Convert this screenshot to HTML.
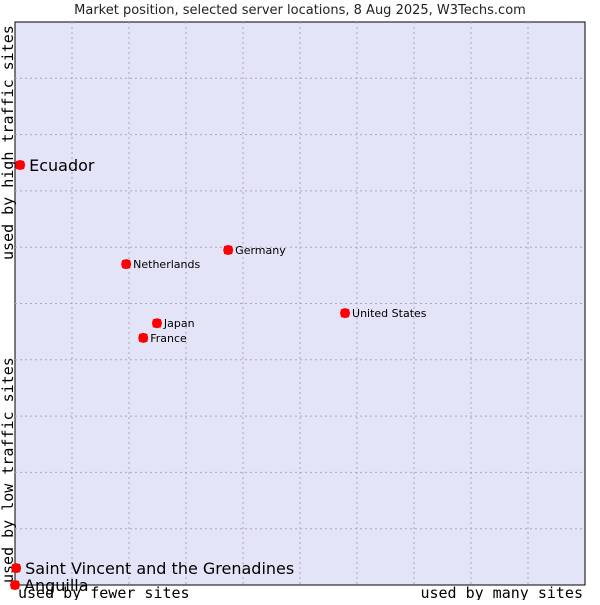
<!DOCTYPE html>
<html><head><meta charset="utf-8"><style>
body{margin:0;background:#fff;width:600px;height:600px;overflow:hidden}
svg{font-family:"DejaVu Sans","Liberation Sans",sans-serif}
</style></head><body>
<svg id="c" width="600" height="600">
<rect x="15" y="22" width="570" height="563" fill="#e3e4f8" stroke="#000"/>
<g id="grid"></g>
<text x="300" y="14" text-anchor="middle" font-size="13" fill="#222">Market position, selected server locations, 8 Aug 2025, W3Techs.com</text>
<text x="18" y="598" font-family="DejaVu Sans Mono,Liberation Mono,monospace" font-size="15">used by fewer sites</text>
<text x="583" y="598" text-anchor="end" font-family="DejaVu Sans Mono,Liberation Mono,monospace" font-size="15">used by many sites</text>
<text transform="translate(13,583) rotate(-90)" font-family="DejaVu Sans Mono,Liberation Mono,monospace" font-size="15">used by low traffic sites</text>
<text transform="translate(13,260) rotate(-90)" font-family="DejaVu Sans Mono,Liberation Mono,monospace" font-size="15">used by high traffic sites</text>
<g id="pts"></g>
</svg>
<script>
const names=["Ecuador","Germany","Netherlands","United States","Japan","France","Saint Vincent and the Grenadines","Anguilla"];
const xs=[0.9,37.4,19.5,57.9,24.9,22.5,0.2,0];
const ys=[74.6,59.5,57.0,48.3,46.5,43.9,3.0,0];
const big=[1,0,0,0,0,0,1,1];
const NS="http://www.w3.org/2000/svg";
const X=v=>15+v*5.7, Y=v=>585-v*5.63;
const g=document.getElementById('grid');
for(let i=1;i<10;i++){
  const l=document.createElementNS(NS,'line');
  l.setAttribute('x1',X(i*10));l.setAttribute('x2',X(i*10));l.setAttribute('y1',22);l.setAttribute('y2',585);
  l.setAttribute('stroke','#aaa');l.setAttribute('stroke-dasharray','2,3');
  
  
  g.appendChild(l);
  const h=document.createElementNS(NS,'line');
  h.setAttribute('y1',Y(i*10));h.setAttribute('y2',Y(i*10));h.setAttribute('x1',15);h.setAttribute('x2',585);
  h.setAttribute('stroke','#aaa');h.setAttribute('stroke-dasharray','2,3');
  
  
  g.appendChild(h);
}
const p=document.getElementById('pts');
names.forEach((n,i)=>{
  const x=X(xs[i]),y=Y(ys[i]);
  const d=document.createElementNS(NS,'polygon');
  d.setAttribute('points',`${x},${y-5} ${x+4},${y-4} ${x+5},${y} ${x+4},${y+4} ${x},${y+5} ${x-4},${y+4} ${x-5},${y} ${x-4},${y-4}`);
  d.setAttribute('fill','#f00');
  
  
  p.appendChild(d);
  const t=document.createElementNS(NS,'text');
  t.setAttribute('x',x+(big[i]?9:7));t.setAttribute('y',y+(big[i]?6:4));
  t.setAttribute('font-size',big[i]?16:11);
  t.textContent=n;
  
  
  p.appendChild(t);
});
</script>
</body></html>
